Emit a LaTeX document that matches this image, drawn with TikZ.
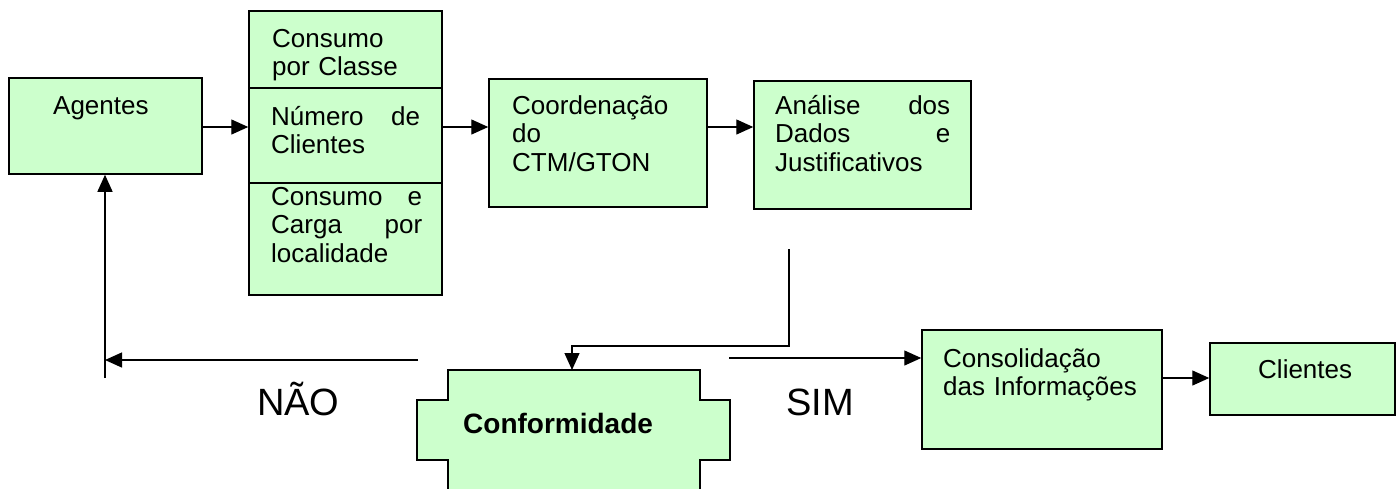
\documentclass[tikz,border=0pt]{standalone}
\usepackage{fontspec}
\setmainfont{Liberation Sans}
\usetikzlibrary{arrows.meta}
\definecolor{boxgreen}{HTML}{CCFFCC}
\tikzset{
  box/.style={draw=black, fill=boxgreen, line width=1.5pt, inner sep=0pt},
  txt/.style={anchor=base west, inner sep=0pt, align=left,
    font=\fontsize{26pt}{28.6pt}\selectfont},
  big/.style={anchor=base west, inner sep=0pt, font=\fontsize{38pt}{40pt}\selectfont},
  arr/.style={line width=1.3pt, -{Triangle[length=17pt,width=15pt]}}
}
\begin{document}
\begin{tikzpicture}[x=1pt, y=-1pt, line join=miter, line cap=butt]
  \useasboundingbox (0,0) rectangle (1396,488);
  % boxes
  \node[box, minimum width=193pt, minimum height=96pt] (agentes) at (105.5,126) {};
  \node[box, minimum width=193pt, minimum height=77pt] (classe) at (345.5,49.5) {};
  \node[box, minimum width=193pt, minimum height=95pt] (numero) at (345.5,135.5) {};
  \node[box, minimum width=193pt, minimum height=112pt] (local) at (345.5,239) {};
  \node[box, minimum width=218pt, minimum height=128pt] (coord) at (598,143) {};
  \node[box, minimum width=217pt, minimum height=128pt] (analise) at (862.5,145) {};
  \node[box, minimum width=240pt, minimum height=119pt] (consol) at (1042,389.5) {};
  \node[box, minimum width=185pt, minimum height=72pt] (clientes) at (1302.5,379) {};
  % conformidade
  \draw[box] (448,370) -- (700,370) -- (700,400) -- (730,400) -- (730,460) -- (700,460)
    -- (700,500) -- (448,500) -- (448,460) -- (417,460) -- (417,400) -- (448,400) -- cycle;
  \coordinate (conf-top) at (572,370);
  % texts
  \node[txt] (t-agentes) at (53,114) {Agentes};
  \node[txt, text width=150pt] (t-classe) at (272,47) {Consumo\\por Classe};
  \node[txt, text width=149pt] (t-numero) at (271,125) {Número\hfill de\\Clientes};
  \node[txt, text width=151pt] (t-local) at (271,205) {Consumo\hfill e\\Carga\hfill por\\localidade};
  \node[txt, text width=180pt] (t-coord) at (512,114) {Coordenação\\do\\CTM/GTON};
  \node[txt, text width=175pt] (t-analise) at (775,114) {Análise\hfill dos\\Dados\hfill e\\Justificativos};
  \node[txt, text width=210pt] (t-consol) at (943,367) {Consolidação\\das Informações};
  \node[txt] (t-clientes) at (1258,378) {Clientes};
  \node[txt, font=\fontsize{28pt}{30pt}\selectfont\bfseries] (t-conf) at (463,433) {Conformidade};
  \node[big] (nao) at (257,415) {NÃO};
  \node[big] (sim) at (786,415) {SIM};
  % connectors
  \draw[arr] (agentes.east |- 0,127) -- (numero.west |- 0,127);
  \draw[arr] (numero.east |- 0,127) -- (coord.west |- 0,127);
  \draw[arr] (coord.east |- 0,127) -- (analise.west |- 0,127);
  \coordinate (ana-end) at (789,249);
  \coordinate (bend) at (572,346);
  \draw[arr] (ana-end) |- (bend) -- (conf-top);
  \coordinate (nao-start) at (418,360);
  \coordinate (nao-foot) at (105,378);
  \draw[arr] (nao-start) -- (nao-foot |- nao-start);
  \draw[arr] (nao-foot) -- (nao-foot |- agentes.south);
  \coordinate (sim-start) at (729,358);
  \draw[arr] (sim-start) -- (sim-start -| consol.west);
  \draw[arr] (consol.east |- 0,378) -- (clientes.west |- 0,378);
\end{tikzpicture}
\end{document}
